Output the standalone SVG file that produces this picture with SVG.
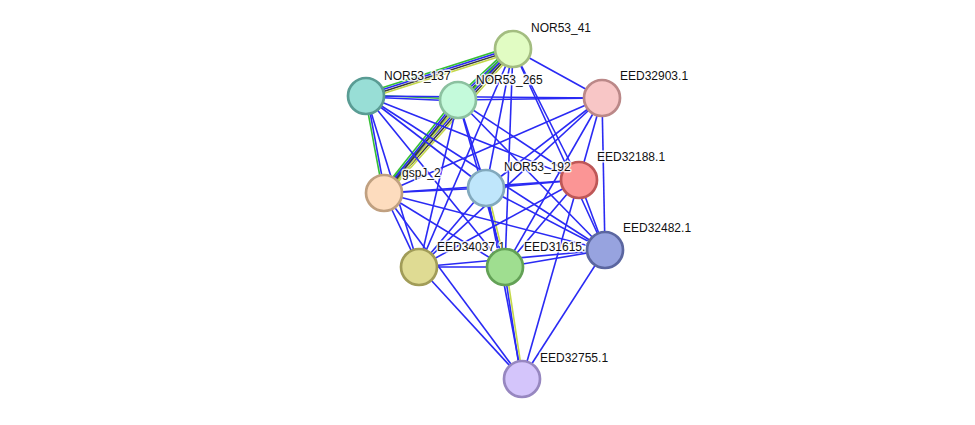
<svg xmlns="http://www.w3.org/2000/svg" width="975" height="425" viewBox="0 0 975 425">
<style>
.e{stroke:#2a2af4;stroke-width:1.6;fill:none}
.g{stroke:#35bf35;stroke-width:1.6;fill:none}
.k{stroke:#3a3a3a;stroke-width:1.6;fill:none}
.y{stroke:#c4d84a;stroke-width:1.6;fill:none}
circle{stroke-width:2.7}
text{font-family:"Liberation Sans",Arial,sans-serif;font-size:12px;fill:#111;stroke:#fff;stroke-width:3;stroke-opacity:0.85;paint-order:stroke;stroke-linejoin:round}
</style>
<rect width="975" height="425" fill="#fff"/>
<g id="connectors">
<line class="g" x1="512.08" y1="46.14" x2="365.08" y2="93.14"/>
<line class="e" x1="512.69" y1="48.05" x2="365.69" y2="95.05"/>
<line class="k" x1="513.31" y1="49.95" x2="366.31" y2="96.95"/>
<line class="y" x1="513.92" y1="51.86" x2="366.92" y2="98.86"/>
<line class="g" x1="510.96" y1="46.8" x2="455.96" y2="97.8"/>
<line class="e" x1="512.32" y1="48.27" x2="457.32" y2="99.27"/>
<line class="k" x1="513.68" y1="49.73" x2="458.68" y2="100.73"/>
<line class="y" x1="515.04" y1="51.2" x2="460.04" y2="102.2"/>
<line class="g" x1="510.77" y1="47" x2="381.77" y2="191"/>
<line class="e" x1="512.26" y1="48.33" x2="383.26" y2="192.33"/>
<line class="k" x1="513.75" y1="49.67" x2="384.75" y2="193.67"/>
<line class="y" x1="515.24" y1="51" x2="386.24" y2="195"/>
<line class="g" x1="455.65" y1="98.13" x2="381.65" y2="191.13"/>
<line class="e" x1="457.22" y1="99.38" x2="383.22" y2="192.38"/>
<line class="k" x1="458.78" y1="100.62" x2="384.78" y2="193.62"/>
<line class="y" x1="460.35" y1="101.87" x2="386.35" y2="194.87"/>
<line class="g" x1="366.04" y1="95" x2="458.04" y2="99"/>
<line class="e" x1="365.96" y1="97" x2="457.96" y2="101"/>
<line class="g" x1="365.02" y1="96.18" x2="383.02" y2="193.18"/>
<line class="e" x1="366.98" y1="95.82" x2="384.98" y2="192.82"/>
<line class="e" x1="485.03" y1="188.23" x2="504.03" y2="267.23"/>
<line class="y" x1="486.97" y1="187.77" x2="505.97" y2="266.77"/>
<line class="e" x1="504.01" y1="267.15" x2="521.01" y2="379.15"/>
<line class="y" x1="505.99" y1="266.85" x2="522.99" y2="378.85"/>
<line class="e" x1="513" y1="49" x2="602" y2="98"/>
<line class="e" x1="513" y1="49" x2="486" y2="188"/>
<line class="e" x1="513" y1="49" x2="419" y2="267"/>
<line class="e" x1="513" y1="49" x2="505" y2="267"/>
<line class="e" x1="513" y1="49" x2="579" y2="180"/>
<line class="e" x1="513" y1="49" x2="605" y2="250"/>
<line class="e" x1="366" y1="96" x2="602" y2="98"/>
<line class="e" x1="366" y1="96" x2="486" y2="188"/>
<line class="e" x1="366" y1="96" x2="579" y2="180"/>
<line class="e" x1="366" y1="96" x2="605" y2="250"/>
<line class="e" x1="366" y1="96" x2="419" y2="267"/>
<line class="e" x1="366" y1="96" x2="505" y2="267"/>
<line class="e" x1="458" y1="100" x2="602" y2="98"/>
<line class="e" x1="458" y1="100" x2="486" y2="188"/>
<line class="e" x1="458" y1="100" x2="579" y2="180"/>
<line class="e" x1="458" y1="100" x2="605" y2="250"/>
<line class="e" x1="458" y1="100" x2="419" y2="267"/>
<line class="e" x1="458" y1="100" x2="505" y2="267"/>
<line class="e" x1="602" y1="98" x2="384" y2="193"/>
<line class="e" x1="602" y1="98" x2="486" y2="188"/>
<line class="e" x1="602" y1="98" x2="579" y2="180"/>
<line class="e" x1="602" y1="98" x2="605" y2="250"/>
<line class="e" x1="602" y1="98" x2="419" y2="267"/>
<line class="e" x1="602" y1="98" x2="505" y2="267"/>
<line class="e" x1="384" y1="193" x2="486" y2="188"/>
<line class="e" x1="384" y1="193" x2="579" y2="180"/>
<line class="e" x1="384" y1="193" x2="605" y2="250"/>
<line class="e" x1="384" y1="193" x2="419" y2="267"/>
<line class="e" x1="384" y1="193" x2="505" y2="267"/>
<line class="e" x1="384" y1="193" x2="522" y2="379"/>
<line class="e" x1="486" y1="188" x2="579" y2="180"/>
<line class="e" x1="486" y1="188" x2="605" y2="250"/>
<line class="e" x1="486" y1="188" x2="419" y2="267"/>
<line class="e" x1="486" y1="188" x2="522" y2="379"/>
<line class="e" x1="579" y1="180" x2="605" y2="250"/>
<line class="e" x1="579" y1="180" x2="419" y2="267"/>
<line class="e" x1="579" y1="180" x2="505" y2="267"/>
<line class="e" x1="579" y1="180" x2="522" y2="379"/>
<line class="e" x1="605" y1="250" x2="419" y2="267"/>
<line class="e" x1="605" y1="250" x2="505" y2="267"/>
<line class="e" x1="605" y1="250" x2="522" y2="379"/>
<line class="e" x1="419" y1="267" x2="505" y2="267"/>
<line class="e" x1="419" y1="267" x2="522" y2="379"/>
</g>
<g id="NOR53_41"><circle cx="513" cy="49" r="18" fill="#e1fcc3" stroke="#a3bd80"/><text x="531" y="32">NOR53_41</text></g>
<g id="NOR53_137"><circle cx="366" cy="96" r="18" fill="#98ded6" stroke="#5a9c94"/><text x="384" y="80">NOR53_137</text></g>
<g id="NOR53_265"><circle cx="458" cy="100" r="18" fill="#c4fadb" stroke="#8cc1a0"/><text x="476" y="84">NOR53_265</text></g>
<g id="EED32903.1"><circle cx="602" cy="98" r="18" fill="#f8c6c6" stroke="#bb8888"/><text x="620" y="80">EED32903.1</text></g>
<g id="gspJ_2"><circle cx="384" cy="193" r="18" fill="#fddcbe" stroke="#c0a080"/><text x="402" y="177">gspJ_2</text></g>
<g id="EED32188.1"><circle cx="579" cy="180" r="18" fill="#fb9595" stroke="#be5757"/><text x="597" y="161">EED32188.1</text></g>
<g id="NOR53_192"><circle cx="486" cy="188" r="18" fill="#bfe6fb" stroke="#82a9bd"/><text x="504" y="171">NOR53_192</text></g>
<g id="EED34037.1"><circle cx="419" cy="267" r="18" fill="#dfdb93" stroke="#a19c58"/><text x="437" y="251">EED34037.1</text></g>
<g id="EED31615.1"><circle cx="505" cy="267" r="18" fill="#9fde90" stroke="#63a156"/><text x="524" y="251">EED31615.1</text></g>
<g id="EED32482.1"><circle cx="605" cy="250" r="18" fill="#97a3df" stroke="#5b66a0"/><text x="623" y="232">EED32482.1</text></g>
<g id="EED32755.1"><circle cx="522" cy="379" r="18" fill="#d4c5fb" stroke="#9787c0"/><text x="540" y="362">EED32755.1</text></g>
</svg>
